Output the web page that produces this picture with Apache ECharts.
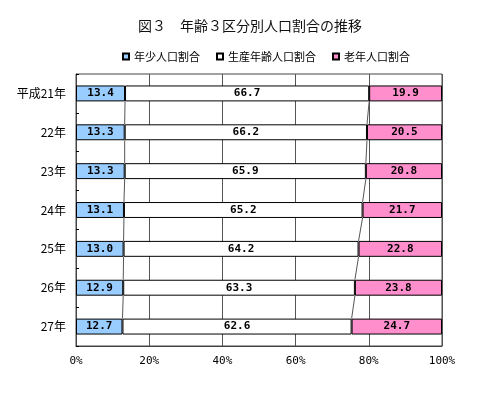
<!DOCTYPE html>
<html>
<head>
<meta charset="utf-8">
<script src="https://cdn.jsdelivr.net/npm/echarts@6/dist/echarts.min.js"></script>
<style>
  html, body { margin: 0; padding: 0; background: #fff; }
  #chart { width: 480px; height: 396px; }
</style>
</head>
<body>
<div id="chart"></div>
<script>
// 年齢3区分別人口割合（%）
var years = ['平成21年', '22年', '23年', '24年', '25年', '26年', '27年'];
var young = [13.4, 13.3, 13.3, 13.1, 13.0, 12.9, 12.7];
var working = [66.7, 66.2, 65.9, 65.2, 64.2, 63.3, 62.6];
var old = [19.9, 20.5, 20.8, 21.7, 22.8, 23.8, 24.7];
var xTicks = [0, 20, 40, 60, 80, 100];

var BAR_RATIO = 0.41;

// 区切り線（系列線）用のデータ：[この年の境界, 年index, 次の年の境界]
function seriesLineData(edges) {
	var out = [];
	for (var i = 0; i < edges.length - 1; i++) {
		out.push([edges[i], i, edges[i + 1]]);
	}
	return out;
}
var edge1 = young.slice();
var edge2 = young.map(function (v, i) { return Math.round((v + working[i]) * 10) / 10; });

function renderSeriesLine(params, api) {
	var band = api.size([0, 1])[1];
	var half = band * BAR_RATIO / 2;
	var p1 = api.coord([api.value(0), api.value(1)]);
	var p2 = api.coord([api.value(2), api.value(1) + 1]);
	return {
		type: 'line',
		shape: { x1: p1[0], y1: p1[1] + half, x2: p2[0], y2: p2[1] - half },
		style: { stroke: '#555', lineWidth: 1 }
	};
}

var labelStyle = {
	show: true,
	position: 'inside',
	color: '#000',
	fontFamily: 'DejaVu Sans Mono',
	fontWeight: 'bold',
	fontSize: 11,
	formatter: function (p) { return p.value.toFixed(1); }
};

var chart = echarts.init(document.getElementById('chart'));
chart.setOption({
	backgroundColor: '#fff',
	animation: false,
	title: {
		text: '図３　年齢３区分別人口割合の推移',
		left: 138,
		top: 19,
		padding: 0,
		textStyle: { fontFamily: 'Noto Sans CJK JP', fontSize: 14, fontWeight: 'normal', color: '#111' }
	},
	legend: {
		left: 122,
		top: 51,
		padding: 0,
		itemGap: 16,
		itemWidth: 6,
		itemHeight: 6,
		icon: 'rect',
		textStyle: { fontFamily: 'Noto Sans CJK JP', fontSize: 11, color: '#000' },
		data: ['年少人口割合', '生産年齢人口割合', '老年人口割合']
	},
	grid: {
		left: 76, right: 38, top: 74, bottom: 50,
		show: true, borderColor: '#444', borderWidth: 1,
		containLabel: false
	},
	xAxis: {
		type: 'value',
		min: 0, max: 100, interval: 20,
		axisLine: { show: true, lineStyle: { color: '#444' } },
		axisTick: { show: false },
		splitLine: { show: true, lineStyle: { color: '#555', width: 1 } },
		axisLabel: {
			margin: 10,
			color: '#000',
			fontFamily: 'DejaVu Sans Mono',
			fontSize: 11,
			formatter: function (v) { return xTicks.indexOf(v) >= 0 ? v + '%' : ''; }
		}
	},
	yAxis: {
		type: 'category',
		inverse: true,
		data: years,
		axisLine: { show: true, lineStyle: { color: '#444' } },
		axisTick: { show: true, inside: true, length: 3, lineStyle: { color: '#000' } },
		axisLabel: { margin: 10, color: '#000', fontFamily: 'Noto Sans CJK JP', fontSize: 12 }
	},
	series: [
		{
			name: '年少人口割合', type: 'bar', stack: 'p', barWidth: (BAR_RATIO * 100) + '%',
			data: young, z: 3,
			itemStyle: { color: '#99CCFF', borderColor: '#000', borderWidth: 1 },
			label: labelStyle
		},
		{
			name: '生産年齢人口割合', type: 'bar', stack: 'p',
			data: working, z: 3,
			itemStyle: { color: '#FFFFFF', borderColor: '#000', borderWidth: 1 },
			label: labelStyle
		},
		{
			name: '老年人口割合', type: 'bar', stack: 'p',
			data: old, z: 3,
			itemStyle: { color: '#FF8FCC', borderColor: '#000', borderWidth: 1 },
			label: labelStyle
		},
		{
			type: 'custom', renderItem: renderSeriesLine, z: 2, silent: true,
			encode: { x: [0, 2], y: 1 },
			data: seriesLineData(edge1)
		},
		{
			type: 'custom', renderItem: renderSeriesLine, z: 2, silent: true,
			encode: { x: [0, 2], y: 1 },
			data: seriesLineData(edge2)
		}
	]
});
</script>
</body>
</html>
